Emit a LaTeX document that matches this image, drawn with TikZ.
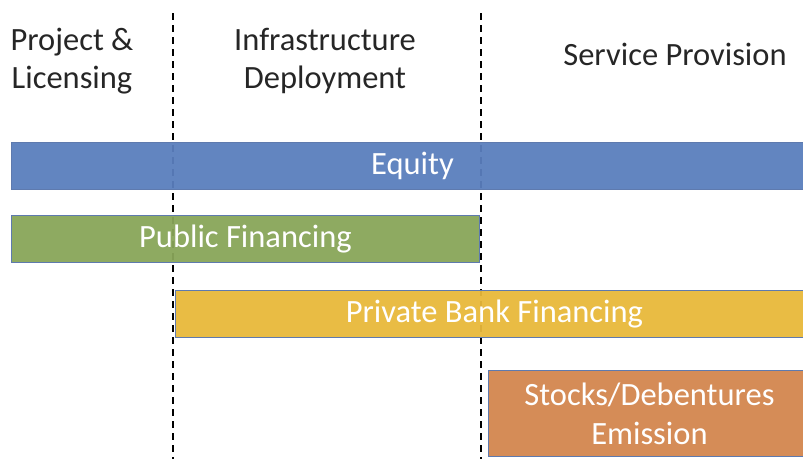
\documentclass[tikz,border=0pt]{standalone}
\usepackage{fontspec}
\setmainfont{Carlito}
\usepackage{xcolor}
\usetikzlibrary{positioning}

\definecolor{equityblue}{HTML}{5A7EBD}
\definecolor{publicgreen}{HTML}{88A559}
\definecolor{bankyellow}{HTML}{E8B83A}
\definecolor{stockorange}{HTML}{D3864E}
\definecolor{baredge}{HTML}{5E7AAE}

\tikzset{
  phase/.style={font=\fontsize{32.5}{38}\selectfont, align=center, text=black!85},
  bar/.style={draw=baredge, line width=0.9pt, fill opacity=0.95, text opacity=1,
              text=white, font=\fontsize{32.5}{39}\selectfont, align=center,
              inner sep=0pt, minimum height=47pt},
  divider/.style={line width=1.8pt, dash pattern=on 7pt off 5pt}
}

\begin{document}
\begin{tikzpicture}[x=1pt,y=-1pt]
\useasboundingbox (0,0) rectangle (803,459);

% phase boundaries
\coordinate (d1top) at (173,13);
\coordinate (d1bot) at (173,459);
\coordinate (d2top) at (481,13);
\coordinate (d2bot) at (481,459);
\draw[divider] (d1top) -- (d1bot);
\draw[divider] (d2top) -- (d2bot);

% phase titles
\node[phase] (licensing) at (72,61) {Project \&\\Licensing};
\node[phase] (deployment) at (325,61) {Infrastructure\\Deployment};
\node[phase] (service) at (675,54) {Service Provision};

% financing sources
\node[bar, fill=equityblue, anchor=north west, minimum width=802pt] (equity) at (11,142) {Equity};
\node[bar, fill=publicgreen, anchor=north west, minimum width=468pt] (public) at (11,215) {Public Financing};
\node[bar, fill=bankyellow, anchor=north west, minimum width=638pt] (bank) at (175,290) {Private Bank Financing};
\node[bar, fill=stockorange, anchor=north west, minimum width=322pt, minimum height=86pt] (stocks) at (488,370) {Stocks/Debentures\\Emission};

\end{tikzpicture}
\end{document}
